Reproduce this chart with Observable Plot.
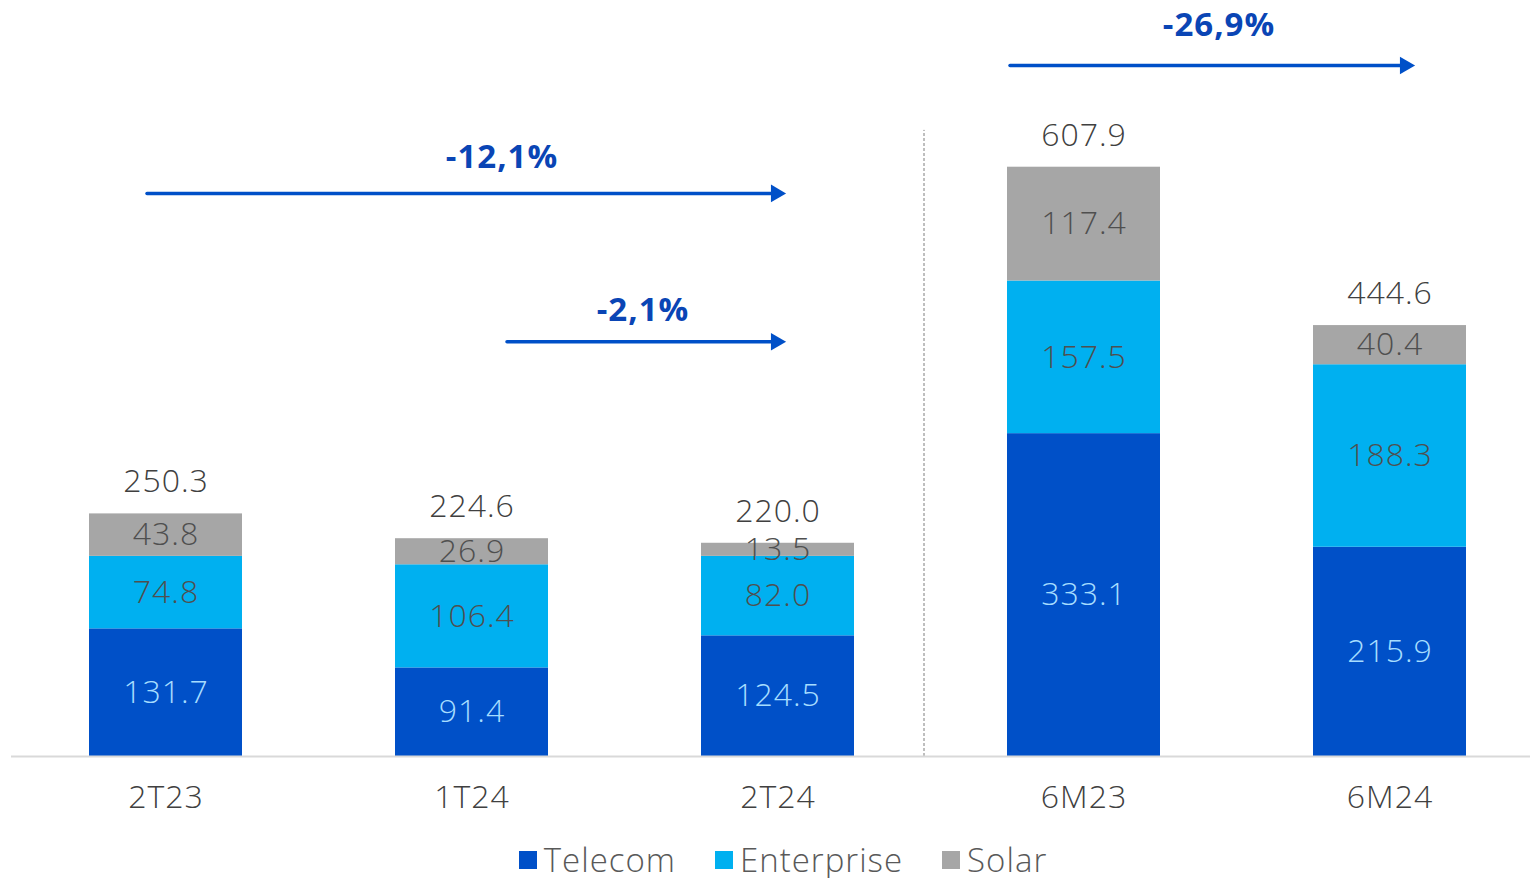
<!DOCTYPE html>
<html>
<head>
<meta charset="utf-8">
<script src="https://cdn.jsdelivr.net/npm/d3@7"></script>
<script src="https://cdn.jsdelivr.net/npm/@observablehq/plot@0.6"></script>
<style>
  html, body { margin: 0; padding: 0; background: #fff; }
  #chart svg { display: block; letter-spacing: 1px; }
  .legend { display: flex; justify-content: center; align-items: center; gap: 39px;
    font-family: "Open Sans", sans-serif; font-weight: 300; font-size: 33px; letter-spacing: 1px; color: #595959;
    line-height: 36px; height: 36px; margin-top: 12px; padding-left: 36px; }
  .legend span.item { display: flex; align-items: center; }
  .legend i { display: inline-block; width: 18px; height: 18px; margin-right: 7px; }
</style>
</head>
<body>
<div id="chart"></div>
<div class="legend" id="legend"></div>
<script>
const categories = ["2T23", "1T24", "2T24", "6M23", "6M24"];
const seriesNames = ["Telecom", "Enterprise", "Solar"];
const telecom = [131.7, 91.4, 124.5, 333.1, 215.9];
const enterprise = [74.8, 106.4, 82.0, 157.5, 188.3];
const solar = [43.8, 26.9, 13.5, 117.4, 40.4];
const totals = [250.3, 224.6, 220.0, 607.9, 444.6];
const changeLabels = ["-12,1%", "-2,1%", "-26,9%"];
const changeFrom = ["2T23", "1T24", "6M23"];
const changeTo = ["2T24", "2T24", "6M24"];

const colors = ["#0050C8", "#00B0F0", "#A6A6A6"];
const labelColors = {Telecom: "#A6DDFF", Enterprise: "#4F4F4F", Solar: "#4F4F4F"};

const rows = [];
[telecom, enterprise, solar].forEach((vals, si) => {
  vals.forEach((v, i) => rows.push({cat: categories[i], series: seriesNames[si], value: v}));
});
const totalRows = categories.map((c, i) => ({cat: c, total: totals[i]}));

// annotation layout (y in data units, pixel offsets)
const ann = [
  {label: changeLabels[0], from: changeFrom[0], to: changeTo[0], ay: 581, ly: 618, inS: -19, inE: 0, tdx: -2, lx: "1T24", ldx: 30},
  {label: changeLabels[1], from: changeFrom[1], to: changeTo[1], ay: 428, ly: 460, inS: 35, inE: 0, tdx: -2, lx: "1T24", ldx: 171},
  {label: changeLabels[2], from: changeFrom[2], to: changeTo[2], ay: 713, ly: 754, inS: -74, inE: -10, tdx: 15, lx: "6M23", ldx: 135}
];

const font = "'Open Sans', sans-serif";

const chart = Plot.plot({
  width: 1530,
  height: 830,
  marginLeft: 11,
  marginRight: 0,
  marginTop: 0,
  marginBottom: 74,
  style: {fontFamily: font, background: "#fff"},
  x: {domain: categories, range: [11, 1543], paddingInner: 0.5, paddingOuter: 0.25, axis: null},
  y: {domain: [0, 780], axis: null},
  color: {domain: seriesNames, range: colors},
  marks: [
    Plot.ruleX([categories[3]], {x: d => d, dx: -160, y1: 0, y2: 646, stroke: "#7F7F7F", strokeWidth: 1, strokeDasharray: "3,2"}),
    Plot.barY(rows, {x: "cat", y: "value", fill: "series", order: seriesNames}),
    Plot.ruleY([0], {stroke: "#D9D9D9", strokeWidth: 2}),
    Plot.text(rows, Plot.stackY({x: "cat", y: "value", order: seriesNames, text: d => d.value.toFixed(1),
      fill: d => labelColors[d.series], fontSize: 32, fontWeight: 300})),
    Plot.text(totalRows, {x: "cat", y: "total", text: d => d.total.toFixed(1), dy: -32, fill: "#404040", fontSize: 32, fontWeight: 300}),
    Plot.axisX({tickSize: 0, tickPadding: 29, fontSize: 32, fontWeight: 300, color: "#404040"}),
    ...ann.map(a => Plot.arrow([a], {x1: "from", x2: "to", y1: "ay", y2: "ay", stroke: "#0050C8", strokeWidth: 3.5, headLength: 0, insetStart: a.inS, insetEnd: a.inE})),
    ...ann.map(a => Plot.dot([a], {x: "to", y: "ay", symbol: "triangle", r: 6.5, rotate: 90, fill: "#0050C8", stroke: "none", dx: a.tdx})),
    ...ann.map(a => Plot.text([a], {x: "lx", y: "ly", text: "label", dx: a.ldx, fill: "#0A45B5", fontSize: 33, fontWeight: 700}))
  ]
});
document.getElementById("chart").appendChild(chart);

const legend = document.getElementById("legend");
seriesNames.forEach((s, i) => {
  const item = document.createElement("span");
  item.className = "item";
  item.innerHTML = `<i style="background:${colors[i]}"></i>${s}`;
  legend.appendChild(item);
});
</script>
</body>
</html>
